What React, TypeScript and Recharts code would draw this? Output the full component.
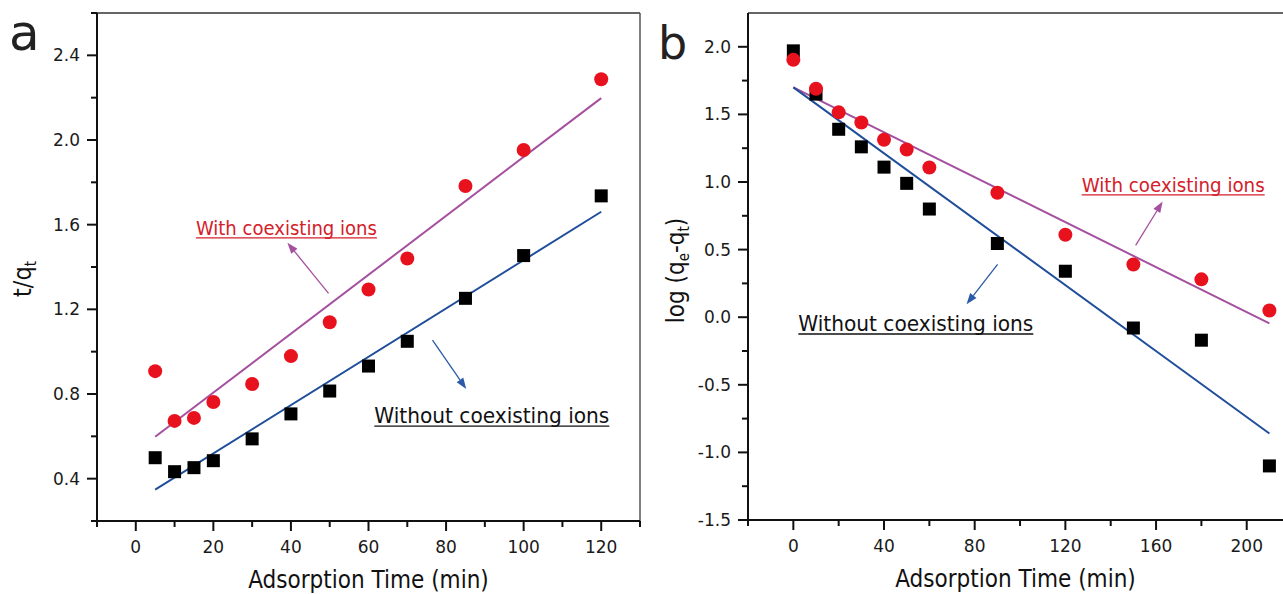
import React from "react";
import {
  ComposedChart,
  Scatter,
  Line,
  XAxis,
  YAxis,
  ReferenceLine,
  ReferenceDot,
  Label,
} from "recharts";

// panel a: pseudo-second-order, t/qt vs time
const timeA = [5, 10, 15, 20, 30, 40, 50, 60, 70, 85, 100, 120];
const withIonsA = [0.908, 0.673, 0.687, 0.762, 0.847, 0.979, 1.139, 1.294, 1.44, 1.783, 1.953, 2.287];
const withoutIonsA = [0.499, 0.433, 0.452, 0.485, 0.588, 0.706, 0.814, 0.932, 1.049, 1.252, 1.454, 1.736];
const fitTimeA = [5, 120];
const fitWithA = [0.598, 2.198];
const fitWithoutA = [0.348, 1.661];

// panel b: pseudo-first-order, log(qe-qt) vs time
const timeB = [0, 10, 20, 30, 40, 50, 60, 90, 120, 150, 180, 210];
const withIonsB = [1.904, 1.69, 1.515, 1.44, 1.313, 1.24, 1.107, 0.92, 0.61, 0.39, 0.28, 0.05];
const withoutIonsB = [1.97, 1.65, 1.39, 1.26, 1.11, 0.99, 0.8, 0.545, 0.34, -0.08, -0.17, -1.1];
const fitTimeB = [0, 210];
const fitWithB = [1.7, -0.045];
const fitWithoutB = [1.7, -0.86];

// ticks
const xTicksA = [-10, 0, 10, 20, 30, 40, 50, 60, 70, 80, 90, 100, 110, 120, 130];
const xLabelsA = [0, 20, 40, 60, 80, 100, 120];
const yTicksA = [0.2, 0.4, 0.6, 0.8, 1.0, 1.2, 1.4, 1.6, 1.8, 2.0, 2.2, 2.4, 2.6];
const yLabelsA = [0.4, 0.8, 1.2, 1.6, 2.0, 2.4];
const xTicksB = [-20, 0, 20, 40, 60, 80, 100, 120, 140, 160, 180, 200];
const xLabelsB = [0, 40, 80, 120, 160, 200];
const yTicksB = [-1.5, -1.25, -1.0, -0.75, -0.5, -0.25, 0, 0.25, 0.5, 0.75, 1.0, 1.25, 1.5, 1.75, 2.0];
const yLabelsB = [-1.5, -1.0, -0.5, 0, 0.5, 1.0, 1.5, 2.0];

const FONT = "'DejaVu Sans Condensed', 'DejaVu Sans', sans-serif";
const TICK_FONT = "'DejaVu Sans', sans-serif";
const RED = "#e8121f";
const PURPLE = "#a5509f";
const BLUE = "#1f4e9a";
const AXIS = "#111";

const pts = (xs: number[], ys: number[]) => xs.map((x, i) => ({ x, y: ys[i] }));
const has = (list: number[], v: number) => list.some((m) => Math.abs(m - v) < 1e-6);

const SquareDot = (p: any) => (
  <rect x={p.cx - 6.5} y={p.cy - 6.5} width={13} height={13} fill="#000" />
);
const RoundDot = (p: any) => <circle cx={p.cx} cy={p.cy} r={7} fill={RED} />;

const makeXTick = (labels: number[]) => (p: any) => {
  const major = has(labels, p.payload.value);
  return (
    <g>
      <line x1={p.x} y1={p.y} x2={p.x} y2={p.y + (major ? 10 : 6)} stroke={AXIS} strokeWidth={2} />
      {major && (
        <text x={p.x} y={p.y + 26} textAnchor="middle" dominantBaseline="central" fontSize={17} fontFamily={TICK_FONT} fill="#1a1a1a">
          {p.payload.value}
        </text>
      )}
    </g>
  );
};

const makeYTick = (labels: number[]) => (p: any) => {
  const major = has(labels, p.payload.value);
  return (
    <g>
      <line x1={p.x} y1={p.y} x2={p.x - (major ? 10 : 6)} y2={p.y} stroke={AXIS} strokeWidth={2} />
      {major && (
        <text x={p.x - 17} y={p.y} textAnchor="end" dominantBaseline="central" fontSize={17} fontFamily={TICK_FONT} fill="#1a1a1a">
          {p.payload.value.toFixed(1)}
        </text>
      )}
    </g>
  );
};

const makeArrow = (color: string) => (p: any) => {
  const { x1, y1, x2, y2 } = p;
  const ang = Math.atan2(y2 - y1, x2 - x1);
  const L = 11;
  const W = 4;
  const bx = x2 - L * Math.cos(ang);
  const by = y2 - L * Math.sin(ang);
  const px = -Math.sin(ang) * W;
  const py = Math.cos(ang) * W;
  return (
    <g>
      <line x1={x1} y1={y1} x2={bx} y2={by} stroke={color} strokeWidth={1.3} />
      <polygon points={`${x2},${y2} ${bx + px},${by + py} ${bx - px},${by - py}`} fill={color} />
    </g>
  );
};

// underlined note, underline drawn by hand so it runs unbroken under descenders
const makeNote = (n: Note) => (p: any) => {
  const base = p.cy + n.size * 0.36;
  return (
    <g>
      <text
        x={p.cx}
        y={base}
        fontSize={n.size}
        fontFamily={FONT}
        fill={n.color}
        textLength={n.width}
        lengthAdjust="spacingAndGlyphs"
      >
        {n.text}
      </text>
      <line x1={p.cx} x2={p.cx + n.width} y1={base + 3} y2={base + 3} stroke={n.color} strokeWidth={1.4} />
    </g>
  );
};

type Note = { x: number; y: number; text: string; color: string; size: number; width: number };
type Arrow = { from: { x: number; y: number }; to: { x: number; y: number }; color: string };

const notesA: Note[] = [
  { x: 15.5, y: 1.586, text: "With coexisting ions", color: "#d4202a", size: 20, width: 181 },
  { x: 61.5, y: 0.7, text: "Without coexisting ions", color: "#111", size: 22, width: 235 },
];
const arrowsA: Arrow[] = [
  { from: { x: 49.7, y: 1.275 }, to: { x: 39.1, y: 1.515 }, color: PURPLE },
  { from: { x: 76.5, y: 1.054 }, to: { x: 85.2, y: 0.824 }, color: "#2b5aa8" },
];
const notesB: Note[] = [
  { x: 127.2, y: 0.98, text: "With coexisting ions", color: "#d4202a", size: 20, width: 183 },
  { x: 2.2, y: -0.044, text: "Without coexisting ions", color: "#111", size: 22, width: 235 },
];
const arrowsB: Arrow[] = [
  { from: { x: 151, y: 0.531 }, to: { x: 162.9, y: 0.855 }, color: PURPLE },
  { from: { x: 90.1, y: 0.39 }, to: { x: 76.4, y: 0.096 }, color: "#2b5aa8" },
];

const xTitle = (p: any) => {
  const vb = p.viewBox;
  return (
    <text x={vb.x + vb.width / 2} y={vb.y + 67} textAnchor="middle" fontSize={24} fontFamily={FONT} fill="#111">
      Adsorption Time (min)
    </text>
  );
};

const yTitleA = (p: any) => {
  const vb = p.viewBox;
  const cx = 31;
  const cy = vb.y + vb.height / 2 + 12;
  return (
    <text transform={`translate(${cx},${cy}) rotate(-90)`} textAnchor="middle" fontSize={25} fontFamily={FONT} fill="#111">
      t/q
      <tspan fontSize={15} dy={5}>t</tspan>
    </text>
  );
};

const yTitleB = (p: any) => {
  const vb = p.viewBox;
  const cx = 684;
  const cy = vb.y + vb.height / 2 + 4;
  return (
    <text transform={`translate(${cx - 645},${cy}) rotate(-90)`} textAnchor="middle" fontSize={24} fontFamily={FONT} fill="#111">
      log (q
      <tspan fontSize={15} dy={5}>e</tspan>
      <tspan dy={-5}>-q</tspan>
      <tspan fontSize={15} dy={5}>t</tspan>
      <tspan dy={-5}>)</tspan>
    </text>
  );
};

type PanelProps = {
  width: number;
  yAxisWidth: number;
  margin: { top: number; right: number; bottom: number; left: number };
  xDomain: [number, number];
  yDomain: [number, number];
  xTicks: number[];
  xLabels: number[];
  yTicks: number[];
  yLabels: number[];
  squares: { x: number; y: number }[];
  circles: { x: number; y: number }[];
  fitWith: { x: number; y: number }[];
  fitWithout: { x: number; y: number }[];
  notes: Note[];
  arrows: Arrow[];
  yTitle: (p: any) => React.ReactElement;
  rightBorder: boolean;
};

function Panel(props: PanelProps) {
  const { xDomain, yDomain } = props;
  return (
    <ComposedChart width={props.width} height={594} margin={props.margin}>
      <XAxis
        type="number"
        dataKey="x"
        domain={xDomain}
        ticks={props.xTicks}
        interval={0}
        allowDataOverflow
        tickSize={0}
        tickMargin={0}
        tickLine={false}
        tick={makeXTick(props.xLabels)}
        axisLine={{ stroke: AXIS, strokeWidth: 2 }}
        height={60}
      >
        <Label content={xTitle} />
      </XAxis>
      <YAxis
        type="number"
        dataKey="y"
        domain={yDomain}
        ticks={props.yTicks}
        interval={0}
        allowDataOverflow
        tickSize={0}
        tickMargin={0}
        tickLine={false}
        tick={makeYTick(props.yLabels)}
        axisLine={{ stroke: AXIS, strokeWidth: 2 }}
        width={props.yAxisWidth}
      >
        <Label content={props.yTitle} />
      </YAxis>
      <ReferenceLine y={yDomain[1]} stroke="#333" strokeWidth={1.5} />
      {props.rightBorder && <ReferenceLine x={xDomain[1]} stroke="#555" strokeWidth={1.5} />}
      <Line data={props.fitWith} dataKey="y" stroke={PURPLE} strokeWidth={2} dot={false} isAnimationActive={false} />
      <Line data={props.fitWithout} dataKey="y" stroke={BLUE} strokeWidth={2} dot={false} isAnimationActive={false} />
      <Scatter data={props.squares} shape={SquareDot} isAnimationActive={false} />
      <Scatter data={props.circles} shape={RoundDot} isAnimationActive={false} />
      {props.arrows.map((a, i) => (
        <ReferenceLine key={`ar${i}`} segment={[a.from, a.to]} shape={makeArrow(a.color)} ifOverflow="visible" />
      ))}
      {props.notes.map((n, i) => (
        <ReferenceDot key={`nt${i}`} x={n.x} y={n.y} r={0} shape={makeNote(n)} ifOverflow="visible" />
      ))}
    </ComposedChart>
  );
}

export default function App() {
  return (
    <div style={{ position: "absolute", left: 0, top: 0, width: 1283, height: 594, background: "#fff" }}>
      <div style={{ position: "absolute", left: 0, top: 0 }}>
        <Panel
          width={645}
          yAxisWidth={97}
          margin={{ top: 13, right: 5, bottom: 13, left: 0 }}
          xDomain={[-10, 130]}
          yDomain={[0.2, 2.6]}
          xTicks={xTicksA}
          xLabels={xLabelsA}
          yTicks={yTicksA}
          yLabels={yLabelsA}
          squares={pts(timeA, withoutIonsA)}
          circles={pts(timeA, withIonsA)}
          fitWith={pts(fitTimeA, fitWithA)}
          fitWithout={pts(fitTimeA, fitWithoutA)}
          notes={notesA}
          arrows={arrowsA}
          yTitle={yTitleA}
          rightBorder
        />
      </div>
      <div style={{ position: "absolute", left: 645, top: 0 }}>
        <Panel
          width={638}
          yAxisWidth={103}
          margin={{ top: 13, right: 0, bottom: 14, left: 0 }}
          xDomain={[-20, 216]}
          yDomain={[-1.5, 2.25]}
          xTicks={xTicksB}
          xLabels={xLabelsB}
          yTicks={yTicksB}
          yLabels={yLabelsB}
          squares={pts(timeB, withoutIonsB)}
          circles={pts(timeB, withIonsB)}
          fitWith={pts(fitTimeB, fitWithB)}
          fitWithout={pts(fitTimeB, fitWithoutB)}
          notes={notesB}
          arrows={arrowsB}
          yTitle={yTitleB}
          rightBorder={false}
        />
      </div>
      <svg width={1283} height={594} style={{ position: "absolute", left: 0, top: 0, pointerEvents: "none" }}>
        <text x={9} y={50} fontSize={50} fontFamily="'DejaVu Sans', sans-serif" fill="#222">a</text>
        <text x={658} y={59} fontSize={46} fontFamily="'DejaVu Sans', sans-serif" fill="#222">b</text>
      </svg>
    </div>
  );
}
